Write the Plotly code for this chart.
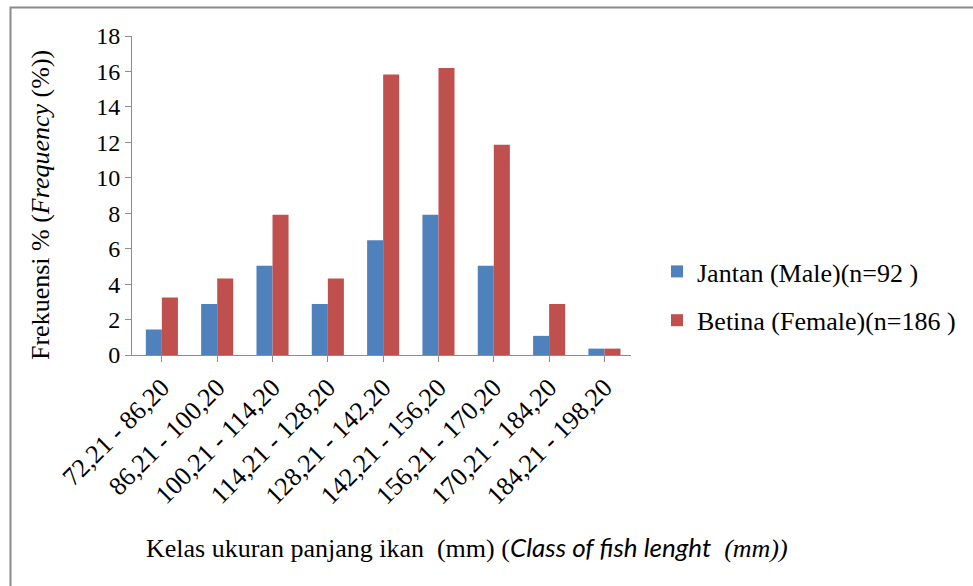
import plotly.graph_objects as go

categories = ["72,21 - 86,20", "86,21 - 100,20", "100,21 - 114,20", "114,21 - 128,20",
              "128,21 - 142,20", "142,21 - 156,20", "156,21 - 170,20", "170,21 - 184,20",
              "184,21 - 198,20"]
male = [1.44, 2.88, 5.04, 2.88, 6.47, 7.91, 5.04, 1.08, 0.36]
female = [3.24, 4.32, 7.91, 4.32, 15.83, 16.19, 11.87, 2.88, 0.36]
y_ticks = [0, 2, 4, 6, 8, 10, 12, 14, 16, 18]

W, H = 973, 586
L, R, T, B = 132, 631, 36, 355  # plot area in pixels

def px(x):
    return (x - L) / (R - L)

def py(y):
    return (B - y) / (B - T)

SERIF = "Liberation Serif"
FS = 26
fig = go.Figure()
fig.add_trace(go.Bar(x=categories, y=male, name="Jantan (Male)(n=92 )",
                     marker=dict(color="#4F81BD", line=dict(width=0)), legendgroup="a"))
fig.add_trace(go.Bar(x=categories, y=female, name="Betina (Female)(n=186 )",
                     marker=dict(color="#C0504D", line=dict(width=0)), legendgroup="b"))

fig.update_layout(
    width=W, height=H,
    margin=dict(l=L, r=W - R, t=T, b=H - B, autoexpand=False),
    paper_bgcolor="white", plot_bgcolor="white",
    barmode="group", bargap=0.42, bargroupgap=0,
    font=dict(family=SERIF, size=FS, color="black"),
    showlegend=True,
    legend=dict(x=px(657), y=py(248), xanchor="left", yanchor="top",
                font=dict(family=SERIF, size=FS, color="black"),
                tracegroupgap=12, traceorder="grouped",
                bgcolor="rgba(0,0,0,0)"),
    xaxis=dict(type="category", range=[-0.54, 8.48], showline=True, linecolor="#8c8c8c",
               linewidth=1, ticks="outside", ticklen=6, tickcolor="#8c8c8c",
               tickangle=-45, tickfont=dict(family=SERIF, size=FS), showgrid=False,
               zeroline=False),
    yaxis=dict(range=[0, 18], tickvals=y_ticks, showline=True, linecolor="#8c8c8c",
               linewidth=1, ticks="outside", ticklen=6, tickcolor="#8c8c8c",
               tickfont=dict(family=SERIF, size=24), showgrid=False, zeroline=False),
)

fig.add_annotation(
    text="Kelas ukuran panjang ikan  (mm) (<i><span style=\"font-family:Lato\">Class of fish lenght</span>  (mm))</i>",
    xref="paper", yref="paper", x=px(467), y=py(547), xanchor="center", yanchor="middle",
    showarrow=False, font=dict(family=SERIF, size=FS, color="black"))

fig.add_annotation(
    text="Frekuensi % (<i>Frequency</i> (%))",
    xref="paper", yref="paper", x=px(40), y=py(205), xanchor="center", yanchor="middle",
    textangle=-90, showarrow=False, font=dict(family=SERIF, size=FS, color="black"))

fig.add_shape(type="rect", xref="paper", yref="paper",
              x0=px(10.5), x1=px(990), y0=py(620), y1=py(7.5),
              line=dict(color="#8a8a8a", width=2), fillcolor="rgba(0,0,0,0)", layer="below")

fig.write_html("out.html")
